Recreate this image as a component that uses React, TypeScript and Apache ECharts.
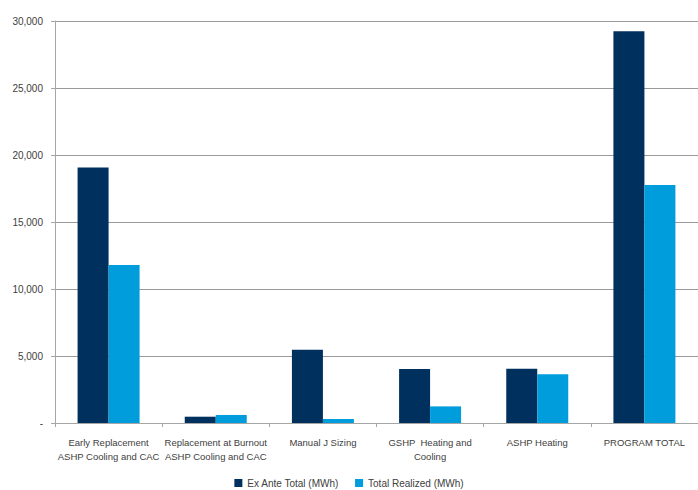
import React, { useEffect, useRef } from "react";
import * as echarts from "echarts";

const categories = [
  "Early Replacement\nASHP Cooling and CAC",
  "Replacement at Burnout\nASHP Cooling and CAC",
  "Manual J Sizing",
  "GSHP  Heating and\nCooling",
  "ASHP Heating",
  "PROGRAM TOTAL",
];
const exAnteTotal = [19060, 470, 5470, 4030, 4050, 29230];
const totalRealized = [11800, 600, 300, 1240, 3630, 17770];
const seriesNames = ["Ex Ante Total (MWh)", "Total Realized (MWh)"];

const FONT = "'Liberation Sans Narrow', 'Arial Narrow', 'Liberation Sans', Arial, sans-serif";

export default function App() {
  const ref = useRef<HTMLDivElement>(null);
  useEffect(() => {
    if (!ref.current) return;
    const chart = echarts.init(ref.current, undefined, { renderer: "svg" });
    chart.setOption({
      animation: false,
      backgroundColor: "#ffffff",
      textStyle: { fontFamily: FONT },
      legend: {
        bottom: 2,
        left: "center",
        padding: [0, 5, 0, 5],
        itemWidth: 8,
        itemHeight: 8,
        itemGap: 16,
        icon: "rect",
        textStyle: { fontFamily: FONT, fontSize: 10, color: "#404040" },
        data: seriesNames,
      },
      grid: { left: 55, right: -9, top: 21, bottom: 67, containLabel: false },
      xAxis: {
        type: "category",
        data: categories,
        axisLine: { lineStyle: { color: "#a6a6a6", width: 1 } },
        axisTick: { show: true, length: 4, lineStyle: { color: "#a6a6a6" } },
        axisLabel: {
          fontFamily: FONT,
          fontSize: 9.5,
          color: "#404040",
          margin: 12,
          lineHeight: 14,
          interval: 0,
        },
      },
      yAxis: {
        type: "value",
        min: 0,
        max: 30000,
        interval: 5000,
        axisLine: { show: true, lineStyle: { color: "#a6a6a6" } },
        axisTick: { show: true, inside: false, length: 4, lineStyle: { color: "#a6a6a6" } },
        splitLine: { lineStyle: { color: "#9a9a9a", width: 1 } },
        axisLabel: {
          fontFamily: FONT,
          fontSize: 10,
          color: "#404040",
          margin: 12,
          formatter: (v: number) => (v === 0 ? "-" : v.toLocaleString("en-US")),
        },
      },
      series: [
        {
          name: seriesNames[0],
          type: "bar",
          data: exAnteTotal,
          barWidth: 31,
          barGap: "0%",
          itemStyle: { color: "#00305e" },
        },
        {
          name: seriesNames[1],
          type: "bar",
          data: totalRealized,
          barWidth: 31,
          barGap: "0%",
          itemStyle: { color: "#009ddc" },
        },
      ],
    });
    return () => chart.dispose();
  }, []);
  return (
    <div style={{ position: "fixed", left: 0, top: 0, width: 698, height: 490, overflow: "hidden" }}>
      <div ref={ref} style={{ width: 698, height: 490 }} />
    </div>
  );
}
